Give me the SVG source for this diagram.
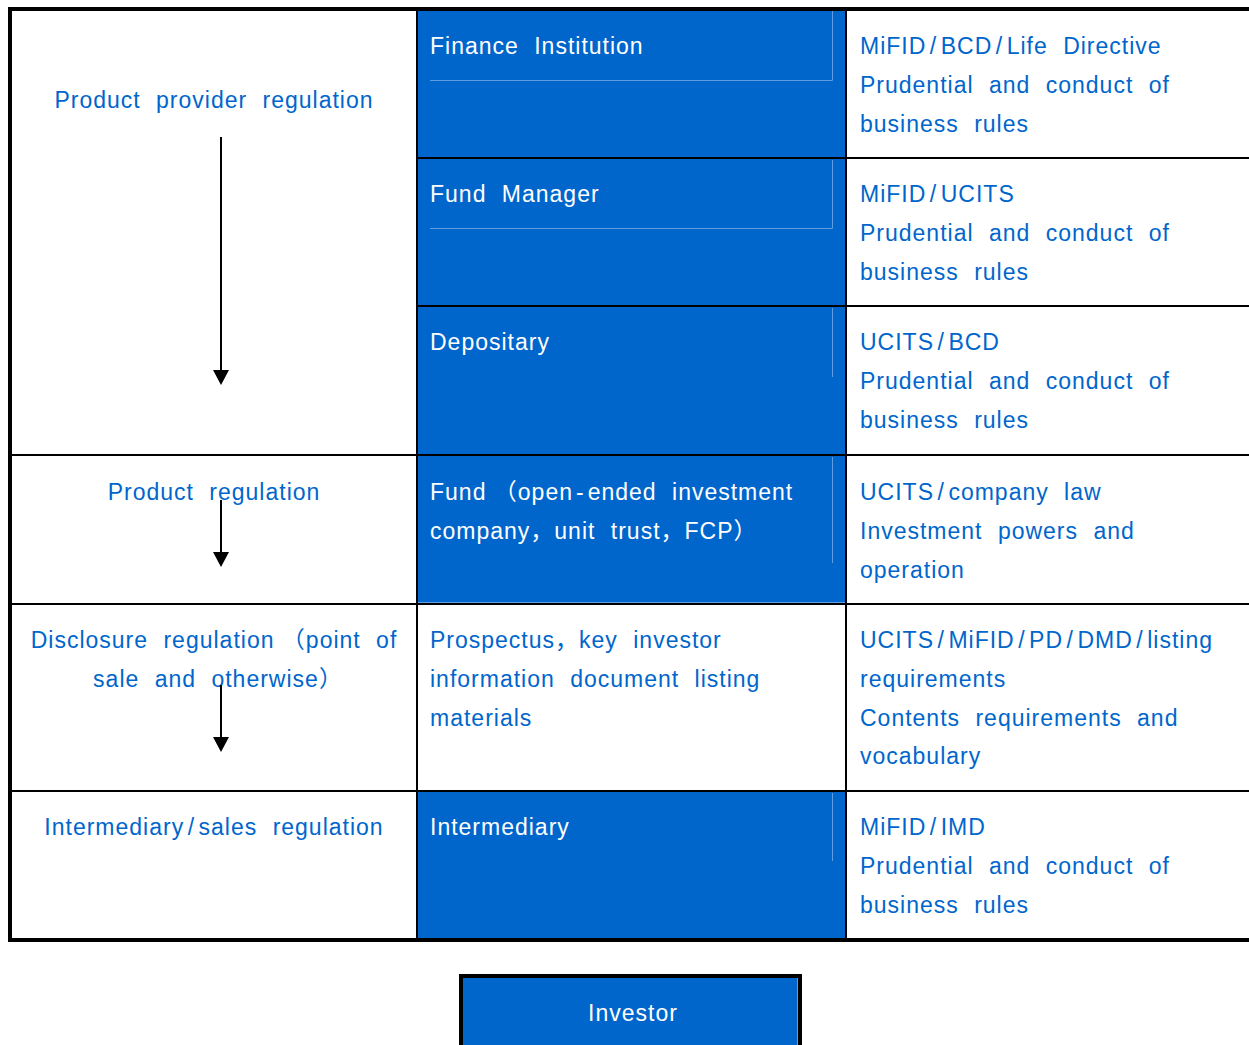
<svg xmlns="http://www.w3.org/2000/svg" width="1249" height="1045" viewBox="0 0 1249 1045">
<defs>
<style>
text{font-family:"Liberation Sans","Noto Sans CJK SC",sans-serif;font-size:23px;letter-spacing:1px;word-spacing:8px}
.b{fill:#0066cc}
.t{fill:#0066cc}
.w{fill:#ffffff}
.c{text-anchor:middle}
.ns{word-spacing:0}
.grid{stroke:#000;stroke-width:2;fill:none}
.thick{stroke:#000;stroke-width:4;fill:none}
.hl{stroke:#5e9de2;stroke-width:1;fill:none}
.arr{stroke:#000;stroke-width:2;fill:none;marker-end:url(#ah)}
</style>
<marker id="ah" markerUnits="userSpaceOnUse" markerWidth="15" markerHeight="16" viewBox="0 0 15 16" refX="11" refY="8" orient="auto">
<path d="M0,0 L15,8 L0,16 z" fill="#000"/>
</marker>
</defs>
<rect width="1249" height="1045" fill="#fff"/>

<g id="product-provider-regulation">
<text class="t c" x="214" y="107.5">Product provider regulation</text>
</g>
<g id="product-regulation">
<text class="t c" x="214" y="500">Product regulation</text>
</g>
<g id="disclosure-regulation">
<text class="t c" x="214" y="648">Disclosure regulation<tspan class="ns"> （</tspan>point of</text>
<text class="t c" x="218" y="687">sale and otherwise）</text>
</g>
<g id="intermediary-sales-regulation">
<text class="t c" x="214" y="835">Intermediary<tspan dx="3.5">/</tspan><tspan dx="3.5">sales regulation</tspan></text>
</g>

<g id="finance-institution">
<rect class="b" x="417" y="9" width="429" height="149"/>
<path class="hl" d="M430,80.5 H832.5 V11"/>
<text class="w" x="430" y="54">Finance Institution</text>
</g>
<g id="fund-manager">
<rect class="b" x="417" y="158" width="429" height="148"/>
<path class="hl" d="M430,228.5 H832.5 V160"/>
<text class="w" x="430" y="202">Fund Manager</text>
</g>
<g id="depositary">
<rect class="b" x="417" y="306" width="429" height="149"/>
<path class="hl" d="M832.5,308 V377"/>
<text class="w" x="430" y="350">Depositary</text>
</g>
<g id="fund">
<rect class="b" x="417" y="455" width="429" height="149"/>
<path class="hl" d="M832.5,457 V563 M418,602.5 H845"/>
<text class="w" x="430" y="499.5">Fund<tspan class="ns"> （</tspan>open<tspan dx="3">-</tspan><tspan dx="3">ended investment</tspan></text>
<text class="w" x="430" y="538.5">company，unit trust，FCP）</text>
</g>
<g id="prospectus">
<text class="t" x="430" y="648">Prospectus，key investor</text>
<text class="t" x="430" y="687">information document listing</text>
<text class="t" x="430" y="725.5">materials</text>
</g>
<g id="intermediary">
<rect class="b" x="417" y="791" width="429" height="149"/>
<path class="hl" d="M832.5,793 V861"/>
<text class="w" x="430" y="835">Intermediary</text>
</g>

<g id="rules-finance">
<text class="t" x="860" y="54">MiFID<tspan dx="3.5">/</tspan><tspan dx="3.5">BCD</tspan><tspan dx="3.5">/</tspan><tspan dx="3.5">Life Directive</tspan></text>
<text class="t" x="860" y="93">Prudential and conduct of</text>
<text class="t" x="860" y="132">business rules</text>
</g>
<g id="rules-fund-manager">
<text class="t" x="860" y="202">MiFID<tspan dx="3.5">/</tspan><tspan dx="3.5">UCITS</tspan></text>
<text class="t" x="860" y="241">Prudential and conduct of</text>
<text class="t" x="860" y="280">business rules</text>
</g>
<g id="rules-depositary">
<text class="t" x="860" y="350">UCITS<tspan dx="3.5">/</tspan><tspan dx="3.5">BCD</tspan></text>
<text class="t" x="860" y="389">Prudential and conduct of</text>
<text class="t" x="860" y="428">business rules</text>
</g>
<g id="rules-fund">
<text class="t" x="860" y="499.5">UCITS<tspan dx="3.5">/</tspan><tspan dx="3.5">company law</tspan></text>
<text class="t" x="860" y="538.5">Investment powers and</text>
<text class="t" x="860" y="577.5">operation</text>
</g>
<g id="rules-disclosure">
<text class="t" x="860" y="648">UCITS<tspan dx="3.5">/</tspan><tspan dx="3.5">MiFID</tspan><tspan dx="3.5">/</tspan><tspan dx="3.5">PD</tspan><tspan dx="3.5">/</tspan><tspan dx="3.5">DMD</tspan><tspan dx="3.5">/</tspan><tspan dx="3.5">listing</tspan></text>
<text class="t" x="860" y="687">requirements</text>
<text class="t" x="860" y="725.5">Contents requirements and</text>
<text class="t" x="860" y="764">vocabulary</text>
</g>
<g id="rules-intermediary">
<text class="t" x="860" y="835">MiFID<tspan dx="3.5">/</tspan><tspan dx="3.5">IMD</tspan></text>
<text class="t" x="860" y="874">Prudential and conduct of</text>
<text class="t" x="860" y="913">business rules</text>
</g>

<g id="table-grid">
<path class="grid" d="M417,11 V938 M846,11 V938 M417,158 H1249 M417,306 H1249 M12,455 H1249 M12,604 H1249 M12,791 H1249"/>
<path class="thick" d="M8,9 H1249 M10,7 V942 M8,940 H1249"/>
</g>

<g id="investor">
<rect x="461" y="976" width="339" height="90" fill="#0066cc" stroke="#000" stroke-width="4"/>
<path class="hl" d="M797.5,978 V1045"/>
<text class="w c" x="633" y="1021">Investor</text>
</g>

<g id="connectors">
<path class="arr" d="M221,137 V381"/>
<path class="arr" d="M221,500 V563"/>
<path class="arr" d="M221,685 V748"/>
</g>
</svg>
